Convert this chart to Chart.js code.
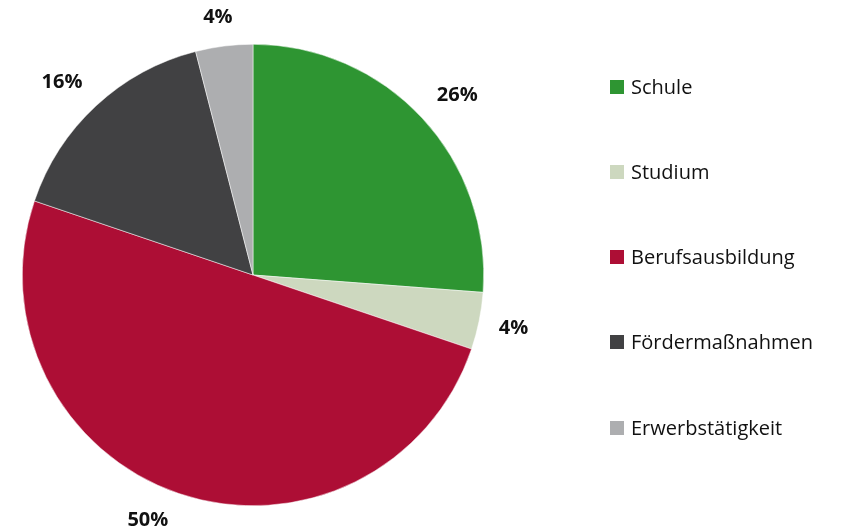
<!DOCTYPE html>
<html>
<head>
<meta charset="utf-8">
<script src="https://cdn.jsdelivr.net/npm/chart.js@4/dist/chart.umd.min.js"></script>
<style>
  html, body { margin: 0; padding: 0; background: #fff; }
  #wrap { position: relative; width: 841px; height: 532px; }
  #legend { position: absolute; left: 610px; top: 0; font-family: "Open Sans", sans-serif; font-size: 20px; color: #111; }
  .item { position: absolute; left: 0; white-space: nowrap; height: 26px; line-height: 26px; }
  .box { position: absolute; left: 0; top: 6px; width: 14px; height: 14px; }
  .lbl { position: absolute; left: 21px; top: 0; }
</style>
</head>
<body>
<div id="wrap">
  <canvas id="pieChart" width="841" height="532"></canvas>
  <div id="legend"></div>
</div>
<script>
const categories = ['Schule', 'Studium', 'Berufsausbildung', 'Fördermaßnahmen', 'Erwerbstätigkeit'];
const shares = [26.2, 4.0, 50.0, 15.8, 4.0];
const colors = ['#2e9532', '#cdd8bf', '#ad0e35', '#414143', '#adaeb0'];

function clamp1(v) {
    return Math.max(-1, Math.min(1, v));
}

// labels outside the slices: the label box corner nearest the pie sits on a ring
// just outside the slice, and labels are pushed back inside the canvas at the bottom
const outsideLabels = {
    id: 'outsideLabels',
    afterDatasetsDraw(chart) {
        const ctx = chart.ctx;
        const meta = chart.getDatasetMeta(0);
        ctx.save();
        ctx.font = 'bold 20px "Open Sans", sans-serif';
        ctx.fillStyle = '#111';
        ctx.textAlign = 'center';
        ctx.textBaseline = 'middle';
        meta.data.forEach((arc, i) => {
            const text = Math.round(shares[i]) + '%';
            const hw = ctx.measureText(text).width / 2;
            const hh = 9;
            const mid = (arc.startAngle + arc.endAngle) / 2;
            const c = Math.cos(mid), s = Math.sin(mid);
            const fx = clamp1(2 * c), fy = clamp1(2 * s);
            const R = arc.outerRadius + 20;
            let x = arc.x + c * R + fx * hw;
            let y = arc.y + s * R + fy * hh;
            const maxY = chart.height - 3 - hh;
            if (y > maxY) {
                y = maxY;
                const cy = y - hh - arc.y;
                const dx = Math.sqrt(Math.max(0, R * R - cy * cy));
                x = c < 0 ? arc.x - dx - hw : arc.x + dx + hw;
            }
            ctx.fillText(text, x, y);
        });
        ctx.restore();
    }
};

new Chart(document.getElementById('pieChart').getContext('2d'), {
    type: 'pie',
    plugins: [outsideLabels],
    data: {
        labels: categories,
        datasets: [{
            data: shares,
            backgroundColor: colors,
            borderColor: '#fff',
            borderWidth: 0.5
        }]
    },
    options: {
        responsive: false,
        animation: false,
        layout: {
            padding: { left: 22, top: 44, right: 357, bottom: 26 }
        },
        plugins: {
            legend: { display: false },
            tooltip: { enabled: false }
        }
    }
});

// html legend
const legendTops = [74, 159, 244, 329, 415];
const legend = document.getElementById('legend');
categories.forEach((name, i) => {
    const item = document.createElement('div');
    item.className = 'item';
    item.style.top = legendTops[i] + 'px';
    item.innerHTML = `<span class="box" style="background:${colors[i]}"></span><span class="lbl">${name}</span>`;
    legend.appendChild(item);
});
</script>
</body>
</html>
